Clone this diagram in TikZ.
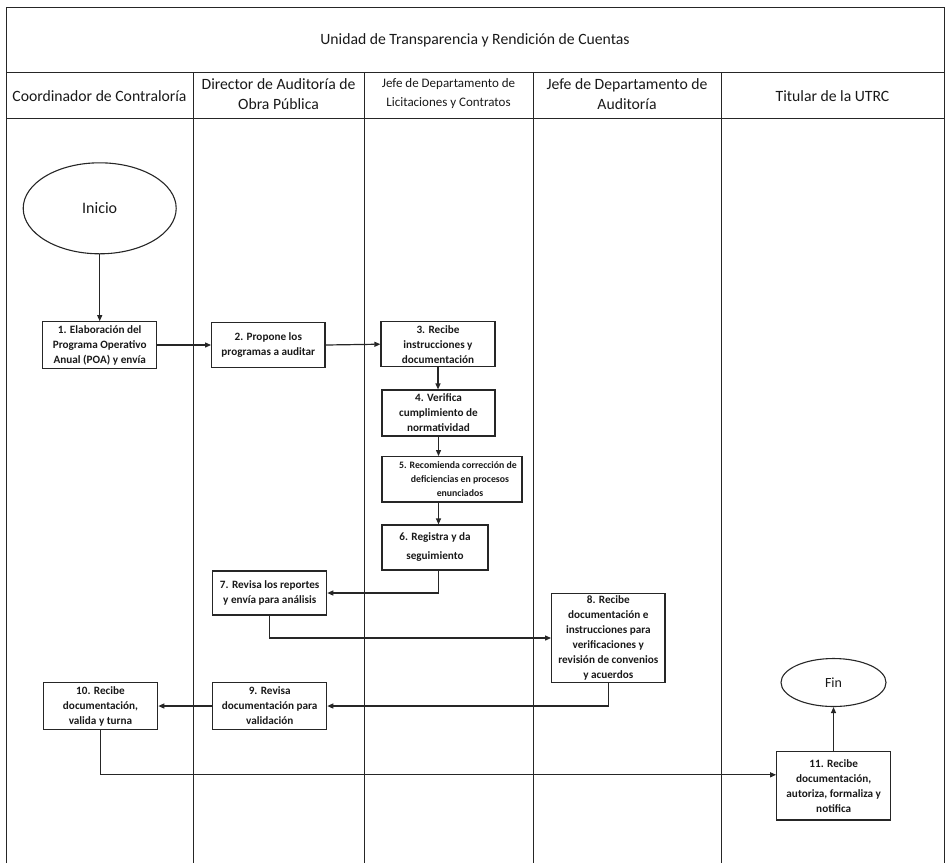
\documentclass[tikz,border=0pt]{standalone}
\usepackage{fontspec}
\setmainfont{Carlito}
\usetikzlibrary{shapes.geometric,arrows.meta}

\tikzset{
  rule/.style={line width=1pt, draw=black!85},
  flow/.style={line width=1.2pt, draw=black!85, -{Triangle[length=6pt,width=5pt]}},
  stepbox/.style={draw=black!85, line width=1.2pt, align=center, inner sep=1pt,
    text=black!90, font=\bfseries\fontsize{11.2}{15}\selectfont},
  terminal/.style={ellipse, draw=black!85, line width=1.1pt, inner sep=0pt,
    text=black!90},
  lanehead/.style={align=center, text=black!90, font=\fontsize{15.7}{20}\selectfont},
}

\begin{document}
\begin{tikzpicture}[x=1pt,y=-1pt]
\useasboundingbox (0,0) rectangle (949,863);

% table frame and swimlanes
\draw[rule] (6,863) -- (6,7) -- (944,7) -- (944,863);
\draw[rule] (6,72) -- (944,72);
\draw[rule] (6,118) -- (944,118);
\foreach \x in {193,364,533,721}
  \draw[rule] (\x,72) -- (\x,863);

% titles
\node[lanehead] (title) at (475,40) {Unidad de Transparencia y Rendición de Cuentas};
\node[lanehead] (lane1) at (99.5,96) {Coordinador de Contraloría};
\node[lanehead] (lane2) at (278.5,94) {Director de Auditoría de\\Obra Pública};
\node[lanehead, font=\fontsize{13}{19}\selectfont] (lane3) at (448.5,94) {Jefe de Departamento de\\Licitaciones y Contratos};
\node[lanehead] (lane4) at (627,94) {Jefe de Departamento de\\Auditoría};
\node[lanehead] (lane5) at (832.5,96) {Titular de la UTRC};

% terminals
\node[terminal, minimum width=153, minimum height=91, font=\fontsize{16}{18}\selectfont]
  (inicio) at (99.7,208.3) {Inicio};
\node[terminal, minimum width=105, minimum height=48, font=\fontsize{14}{16}\selectfont]
  (fin) at (833.5,682.5) {Fin};

% process steps
\node[stepbox, minimum width=114, minimum height=46.6] (b1) at (99.7,345)
  {1. Elaboración del\\Programa Operativo\\Anual (POA) y envía};
\node[stepbox, minimum width=113.3, minimum height=45] (b2) at (268.3,345)
  {2. Propone los\\programas a auditar};
\node[stepbox, minimum width=114, minimum height=45] (b3) at (438,344.2)
  {3. Recibe\\instrucciones y\\documentación};
\node[stepbox, minimum width=113, minimum height=46] (b4) at (438.5,413)
  {4. Verifica\\cumplimiento de\\normatividad};
\node[stepbox, minimum width=140, minimum height=45.3, font=\bfseries\fontsize{9.8}{14}\selectfont]
  (b5) at (452,479.3) {\hspace*{12pt}5. Recomienda corrección de\\\hspace*{16pt}deficiencias en procesos\\\hspace*{16pt}enunciados};
\node[stepbox, minimum width=106, minimum height=45, font=\bfseries\fontsize{11.2}{19}\selectfont]
  (b6) at (435,547.5) {6. Registra y da\\seguimiento};
\node[stepbox, minimum width=114, minimum height=44] (b7) at (269.7,593)
  {7. Revisa los reportes\\y envía para análisis};
\node[stepbox, minimum width=113.3, minimum height=89.4] (b8) at (608.3,638)
  {8. Recibe\\documentación e\\instrucciones para\\verificaciones y\\revisión de convenios\\y acuerdos};
\node[stepbox, minimum width=114, minimum height=46.6] (b9) at (269.7,706)
  {9. Revisa\\documentación para\\validación};
\node[stepbox, minimum width=114.4, minimum height=46.6] (b10) at (100.5,706)
  {10. Recibe\\documentación,\\valida y turna};
\node[stepbox, minimum width=114, minimum height=68.3] (b11) at (833.7,785.8)
  {11. Recibe\\documentación,\\autoriza, formaliza y\\notifica};

% flow
\draw[flow] (inicio.south) -- (inicio.south |- b1.north);
\draw[flow] (b1.east) -- (b2.west);
\draw[flow] (b2.east) -- (b3.west);
\draw[flow] (b3.south) -- (b3.south |- b4.north);
\draw[flow] (b4.south) -- (b4.south |- b5.north);
\draw[flow] (b4.south |- b5.south) -- (b4.south |- b6.north);
\draw[flow] (b4.south |- b6.south) |- (b7.east);
\draw[flow] (b7.south) |- (b8.west);
\draw[flow] (b8.south) |- (b9.east);
\draw[flow] (b9.west) -- (b10.east);
\draw[flow] (b10.south) |- ([yshift=11pt]b11.west);
\draw[flow] (b11.north -| fin.south) -- (fin.south);
\end{tikzpicture}
\end{document}
